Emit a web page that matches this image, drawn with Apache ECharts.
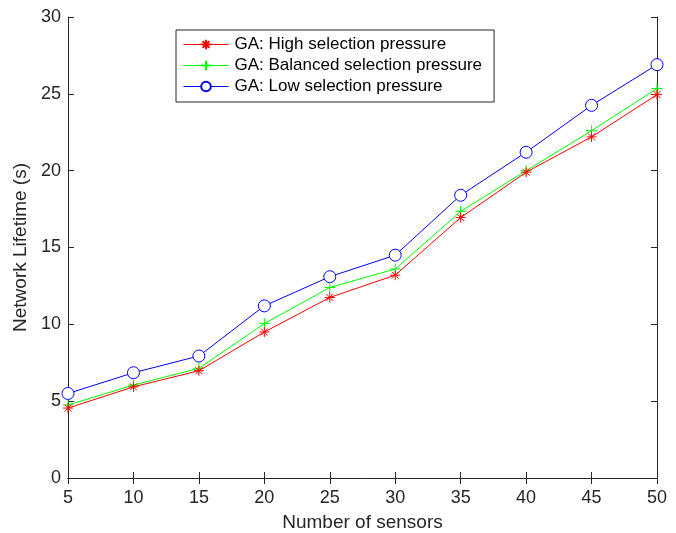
<!DOCTYPE html>
<html>
<head>
<meta charset="utf-8">
<script src="https://cdn.jsdelivr.net/npm/echarts@6/dist/echarts.min.js"></script>
<style>html,body{margin:0;padding:0;background:#fff}#c{width:676px;height:533px}</style>
</head>
<body>
<div id="c"></div>
<script>
const sensors = [5, 10, 15, 20, 25, 30, 35, 40, 45, 50];
const highPressure = [4.55, 5.93, 6.98, 9.5, 11.75, 13.2, 16.95, 19.9, 22.2, 24.95];
const balancedPressure = [4.75, 6.05, 7.14, 10.05, 12.4, 13.6, 17.35, 20.0, 22.6, 25.35];
const lowPressure = [5.5, 6.85, 7.94, 11.2, 13.1, 14.5, 18.4, 21.2, 24.25, 26.9];
const seriesNames = ['GA: High selection pressure', 'GA: Balanced selection pressure', 'GA: Low selection pressure'];

const FONT = 'Liberation Sans, Arial, Helvetica, sans-serif';
const TXT = '#262626';
const pair = (ys) => sensors.map((x, i) => [x, ys[i]]);
const asterisk = 'path://M5 0 L5 10 M0 5 L10 5 M1.5 1.5 L8.5 8.5 M1.5 8.5 L8.5 1.5';
const plus = 'path://M5 0 L5 10 M0 5 L10 5';

const chart = echarts.init(document.getElementById('c'), null, {renderer: 'canvas'});
const axisCommon = {
  axisLine: {show: true, lineStyle: {color: TXT, width: 1}},
  axisTick: {show: true, inside: true, length: 6, lineStyle: {color: TXT}},
  splitLine: {show: false}
};
chart.setOption({
  animation: false,
  backgroundColor: '#fff',
  grid: {left: 68, right: 19, top: 17, bottom: 55, show: false, containLabel: false, outerBoundsMode: 'none'},
  legend: {
    left: 176, top: 30,
    orient: 'vertical',
    itemWidth: 45, itemHeight: 12, itemGap: 4,
    padding: [6, 12, 7, 7],
    borderColor: TXT, borderWidth: 1, backgroundColor: '#fff',
    lineStyle: {width: 1},
    textStyle: {fontFamily: FONT, fontSize: 17, color: '#000', padding: [0, 0, 0, 1]},
    data: seriesNames
  },
  xAxis: [
    Object.assign({type: 'value', min: 5, max: 50, interval: 5, position: 'bottom',
      name: 'Number of sensors', nameLocation: 'middle', nameGap: 35,
      nameTextStyle: {fontFamily: FONT, fontSize: 19, color: TXT},
      axisLabel: {fontFamily: FONT, fontSize: 18, color: TXT, margin: 11}}, axisCommon),
    Object.assign({type: 'value', min: 5, max: 50, interval: 5, position: 'top',
      axisLabel: {show: false}}, axisCommon)
  ],
  yAxis: [
    Object.assign({type: 'value', min: 0, max: 30, interval: 5, position: 'left',
      name: 'Network Lifetime (s)', nameLocation: 'middle', nameGap: 35,
      nameTextStyle: {fontFamily: FONT, fontSize: 19, color: TXT},
      axisLabel: {fontFamily: FONT, fontSize: 18, color: TXT, margin: 7}}, axisCommon),
    Object.assign({type: 'value', min: 0, max: 30, interval: 5, position: 'right',
      axisLabel: {show: false}}, axisCommon)
  ],
  series: [
    {name: seriesNames[0], type: 'line', data: pair(highPressure), symbol: asterisk, symbolSize: 10,
     color: '#ff0000', lineStyle: {color: '#ff0000', width: 1},
     itemStyle: {color: '#ff0000', borderColor: '#ff0000', borderWidth: 1}, z: 4},
    {name: seriesNames[1], type: 'line', data: pair(balancedPressure), symbol: plus, symbolSize: 11,
     color: '#00ff00', lineStyle: {color: '#00ff00', width: 1},
     itemStyle: {color: '#00ff00', borderColor: '#00ff00', borderWidth: 1}, z: 3},
    {name: seriesNames[2], type: 'line', data: pair(lowPressure), symbol: 'circle', symbolSize: 12,
     color: '#0000ff', lineStyle: {color: '#0000ff', width: 1},
     itemStyle: {color: '#ffffff', borderColor: '#0000ff', borderWidth: 1}, z: 2}
  ]
});
</script>
</body>
</html>
